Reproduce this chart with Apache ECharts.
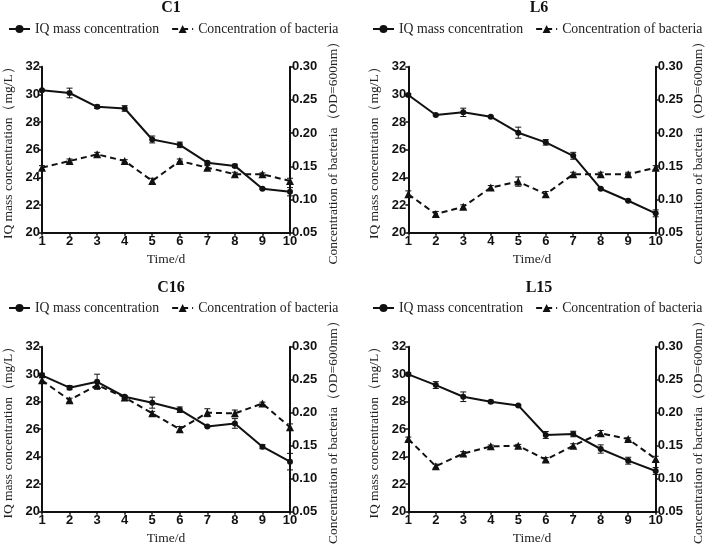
<!DOCTYPE html>
<html>
<head>
<meta charset="utf-8">
<script src="https://cdn.jsdelivr.net/npm/echarts@6/dist/echarts.min.js"></script>
<style>html,body{margin:0;padding:0;background:#fff;}#chart{width:709px;height:547px;}</style>
</head>
<body>
<div id="chart"></div>
<script>
const categories = ['1','2','3','4','5','6','7','8','9','10'];
const leftTicks = [20, 32, 2];
const rightTicks = [0.05, 0.30, 0.05];

const c1IQ = [30.29, 30.1, 29.1, 28.98, 26.74, 26.35, 25.06, 24.83, 23.18, 22.96];
const c1IQErr = [0.05, 0.35, 0.12, 0.2, 0.25, 0.2, 0.1, 0.12, 0.05, 0.3];
const c1Bac = [0.148, 0.158, 0.168, 0.158, 0.128, 0.158, 0.148, 0.138, 0.138, 0.128];
const c1BacErr = [0.003, 0.003, 0.003, 0.002, 0.004, 0.003, 0.003, 0.003, 0.002, 0.004];

const l6IQ = [29.95, 28.51, 28.7, 28.39, 27.23, 26.53, 25.56, 23.18, 22.31, 21.4];
const l6IQErr = [0.1, 0.05, 0.3, 0.05, 0.4, 0.2, 0.25, 0.05, 0.05, 0.25];
const l6Bac = [0.108, 0.078, 0.089, 0.118, 0.127, 0.108, 0.138, 0.138, 0.138, 0.148];
const l6BacErr = [0.005, 0.004, 0.003, 0.003, 0.007, 0.004, 0.003, 0.003, 0.003, 0.003];

const c16IQ = [29.92, 29.02, 29.45, 28.36, 27.93, 27.42, 26.2, 26.42, 24.73, 23.64];
const c16IQErr = [0.15, 0.15, 0.55, 0.1, 0.4, 0.2, 0.05, 0.35, 0.15, 0.6];
const c16Bac = [0.249, 0.219, 0.242, 0.223, 0.199, 0.175, 0.2, 0.199, 0.214, 0.178];
const c16BacErr = [0.004, 0.003, 0.004, 0.002, 0.003, 0.004, 0.006, 0.005, 0.002, 0.005];

const l15IQ = [29.99, 29.21, 28.36, 28.0, 27.73, 25.58, 25.65, 24.56, 23.71, 22.96];
const l15IQErr = [0.1, 0.25, 0.35, 0.1, 0.05, 0.25, 0.2, 0.3, 0.25, 0.25];
const l15Bac = [0.16, 0.119, 0.138, 0.149, 0.15, 0.129, 0.15, 0.169, 0.16, 0.13];
const l15BacErr = [0.003, 0.003, 0.003, 0.002, 0.002, 0.003, 0.003, 0.004, 0.002, 0.004];

const panelTitles = ['C1', 'L6', 'C16', 'L15'];
const seriesNames = ['IQ mass concentration', 'Concentration of bacteria'];
const axisNames = ['Time/d', 'IQ mass concentration\uFF08mg/L\uFF09', 'Concentration of bacteria\uFF08OD=600nm\uFF09'];

const panels = [
  {title: panelTitles[0], iq: c1IQ, iqErr: c1IQErr, bac: c1Bac, bacErr: c1BacErr,
   grid: {left: 41, top: 66.7, width: 249, height: 166}, titleX: 166, titleY: -5, legendX: 3, legendY: 17},
  {title: panelTitles[1], iq: l6IQ, iqErr: l6IQErr, bac: l6Bac, bacErr: l6BacErr,
   grid: {left: 408.3, top: 66.7, width: 247.4, height: 166}, titleX: 534, titleY: -5, legendX: 367, legendY: 17},
  {title: panelTitles[2], iq: c16IQ, iqErr: c16IQErr, bac: c16Bac, bacErr: c16BacErr,
   grid: {left: 41, top: 346.7, width: 249, height: 165}, titleX: 166, titleY: 275, legendX: 3, legendY: 296},
  {title: panelTitles[3], iq: l15IQ, iqErr: l15IQErr, bac: l15Bac, bacErr: l15BacErr,
   grid: {left: 408.3, top: 346.7, width: 247.4, height: 165}, titleX: 534, titleY: 275, legendX: 367, legendY: 296}
];

function renderErr(params, api) {
  const x = api.value(0), y = api.value(1), e = api.value(2);
  const t = api.coord([x, y + e]);
  const b = api.coord([x, y - e]);
  const hw = 3;
  const st = {stroke: '#111', lineWidth: 1, fill: null};
  return {type: 'group', children: [
    {type: 'line', shape: {x1: t[0], y1: t[1], x2: b[0], y2: b[1]}, style: st},
    {type: 'line', shape: {x1: t[0] - hw, y1: t[1], x2: t[0] + hw, y2: t[1]}, style: st},
    {type: 'line', shape: {x1: b[0] - hw, y1: b[1], x2: b[0] + hw, y2: b[1]}, style: st}
  ]};
}

const axisLineStyle = {lineStyle: {color: '#111', width: 2}};
const tickLabel = {color: '#111', fontFamily: 'Liberation Sans, Arial', fontWeight: 'bold', fontSize: 13};
const nameText = {color: '#222', fontFamily: 'Liberation Serif, Times New Roman', fontSize: 13.5};

const option = {
  animation: false,
  backgroundColor: '#fff',
  title: [], legend: [], grid: [], xAxis: [], yAxis: [], series: []
};

panels.forEach((p, i) => {
  option.title.push({text: p.title, left: p.titleX, top: p.titleY, textAlign: 'center',
    textStyle: {fontFamily: 'Liberation Serif, Times New Roman', fontWeight: 'bold', fontSize: 16, color: '#111'}});
  option.legend.push({
    left: p.legendX, top: p.legendY, width: 420, itemWidth: 21, itemHeight: 10, itemGap: 12,
    data: [seriesNames[0], seriesNames[1]],
    textStyle: {fontFamily: 'Liberation Serif, Times New Roman', fontSize: 13.8, color: '#222'},
    selectedMode: false
  });
  option.grid.push(Object.assign({containLabel: false}, p.grid));
  option.xAxis.push({
    type: 'category', gridIndex: i, data: categories, boundaryGap: false,
    name: axisNames[0], nameLocation: 'middle', nameGap: 20, nameTextStyle: nameText,
    axisLine: axisLineStyle, axisTick: {length: 3, lineStyle: {color: '#111', width: 1.5}, alignWithLabel: true},
    axisLabel: Object.assign({margin: 2, interval: 0}, tickLabel), splitLine: {show: false}
  });
  option.yAxis.push({
    type: 'value', gridIndex: i, min: leftTicks[0], max: leftTicks[1], interval: leftTicks[2],
    name: axisNames[1], nameLocation: 'middle', nameRotate: 90, nameGap: 27, nameTextStyle: nameText,
    axisLine: Object.assign({show: true}, axisLineStyle), axisTick: {show: true, length: 3, lineStyle: {color: '#111', width: 1.5}},
    axisLabel: Object.assign({margin: 2}, tickLabel), splitLine: {show: false}
  });
  option.yAxis.push({
    type: 'value', gridIndex: i, position: 'right', min: rightTicks[0], max: rightTicks[1], interval: rightTicks[2],
    name: axisNames[2], nameLocation: 'middle', nameRotate: 90, nameGap: 36, nameTextStyle: nameText,
    axisLine: Object.assign({show: true}, axisLineStyle), axisTick: {show: true, length: 3, lineStyle: {color: '#111', width: 1.5}},
    axisLabel: Object.assign({margin: 2, formatter: v => v.toFixed(2)}, tickLabel), splitLine: {show: false}
  });
  const yl = i * 2, yr = i * 2 + 1;
  option.series.push({
    type: 'custom', xAxisIndex: i, yAxisIndex: yl, renderItem: renderErr, z: 3,
    encode: {x: 0, y: 1}, data: p.iq.map((v, k) => [k, v, p.iqErr[k]]), silent: true
  });
  option.series.push({
    type: 'custom', xAxisIndex: i, yAxisIndex: yr, renderItem: renderErr, z: 3,
    encode: {x: 0, y: 1}, data: p.bac.map((v, k) => [k, v, p.bacErr[k]]), silent: true
  });
  option.series.push({
    name: seriesNames[0], type: 'line', xAxisIndex: i, yAxisIndex: yl, data: p.iq,
    symbol: 'circle', symbolSize: 6, itemStyle: {color: '#111'},
    lineStyle: {color: '#111', width: 2, type: 'solid'}, z: 4
  });
  option.series.push({
    name: seriesNames[1], type: 'line', xAxisIndex: i, yAxisIndex: yr, data: p.bac,
    symbol: 'triangle', symbolSize: 8, itemStyle: {color: '#111'},
    lineStyle: {color: '#111', width: 2, type: [6, 4]}, z: 4
  });
});

const chart = echarts.init(document.getElementById('chart'), null, {renderer: 'canvas'});
chart.setOption(option);
</script>
</body>
</html>
